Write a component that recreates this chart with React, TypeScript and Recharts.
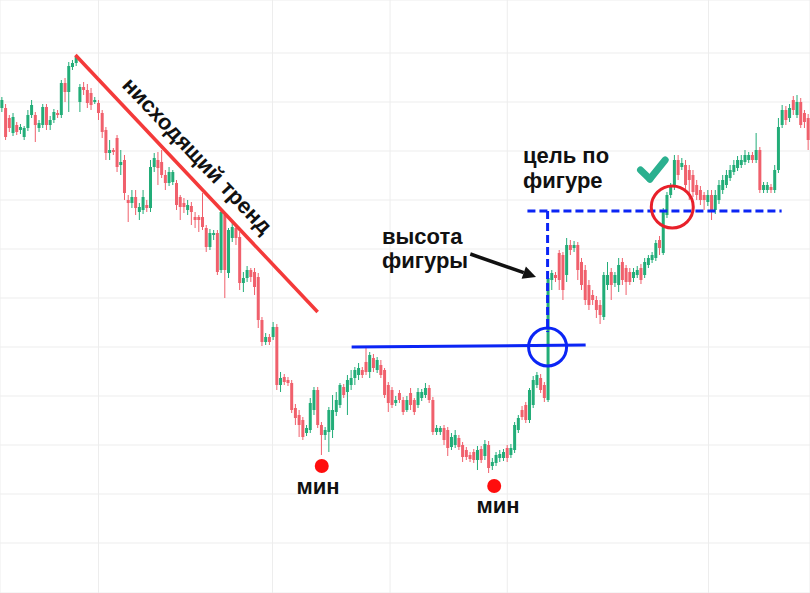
import {
  ComposedChart,
  Bar,
  XAxis,
  YAxis,
  CartesianGrid,
  ReferenceLine,
  ReferenceDot,
} from "recharts";

document.body.style.margin = "0";

type Ohlc = [number, number, number, number]; // open, high, low, close

// range before the peak
const leadIn: Ohlc[] = [
  [492, 503, 488, 500], [492, 496, 460, 463], [482, 485, 468, 472], [467, 487, 464, 483],
  [475, 478, 465, 468], [470, 476, 466, 473], [463, 474, 460, 472], [472, 490, 469, 485],
  [485, 500, 482, 495], [485, 488, 458, 475], [472, 480, 468, 477], [475, 496, 472, 493],
  [493, 496, 470, 475], [475, 484, 470, 480], [480, 491, 477, 488], [487, 490, 482, 485],
  [485, 520, 482, 517], [517, 522, 498, 508], [508, 538, 488, 534], [533, 540, 530, 537],
  [537, 545, 534, 543],
];

// falling leg along the trend line
const downtrend: Ohlc[] = [
  [498, 516, 488, 513], [513, 518, 505, 510], [510, 516, 492, 497], [507, 512, 490, 495],
  [498, 503, 496, 500], [497, 500, 480, 487], [487, 490, 462, 468], [470, 473, 440, 447],
  [447, 460, 440, 450], [450, 452, 445, 448], [462, 465, 428, 433], [435, 450, 425, 438],
  [440, 445, 400, 407], [400, 405, 378, 397], [397, 410, 392, 403], [403, 410, 385, 392],
  [388, 397, 380, 393], [390, 410, 386, 403], [395, 400, 388, 392], [392, 440, 388, 433],
  [433, 447, 428, 442], [440, 448, 415, 432], [438, 450, 422, 425], [425, 430, 410, 417],
  [417, 433, 414, 428], [418, 430, 415, 428], [417, 420, 390, 395], [403, 405, 380, 393],
  [397, 402, 387, 393], [390, 400, 385, 395], [394, 398, 375, 388], [383, 388, 372, 380],
  [383, 385, 368, 380], [383, 407, 370, 373], [372, 375, 348, 353], [353, 371, 350, 367],
  [365, 370, 360, 367], [367, 370, 325, 328], [330, 390, 327, 388], [385, 388, 302, 330],
  [327, 372, 322, 370], [362, 377, 358, 373], [372, 375, 355, 362], [363, 368, 310, 317],
  [317, 328, 308, 322], [322, 334, 318, 330], [330, 332, 318, 323], [328, 332, 305, 313],
  [323, 327, 272, 280], [280, 283, 254, 258], [258, 267, 255, 263], [263, 266, 255, 258],
  [263, 278, 260, 273],
];

// first low and rebound to the neckline
const firstTrough: Ohlc[] = [
  [273, 276, 210, 215], [215, 228, 208, 222], [223, 226, 215, 218], [220, 223, 214, 217],
  [217, 220, 187, 190], [192, 196, 175, 182], [185, 190, 163, 175], [180, 183, 160, 163],
  [167, 175, 164, 172], [170, 202, 167, 197], [190, 213, 185, 210], [210, 213, 172, 175],
  [175, 178, 145, 165], [165, 173, 160, 170], [168, 193, 148, 190], [170, 205, 162, 190],
  [188, 208, 184, 200], [195, 217, 192, 215], [213, 216, 202, 205], [208, 225, 185, 220],
  [215, 230, 210, 222], [222, 233, 215, 230], [225, 237, 220, 232], [230, 233, 222, 225],
  [238, 252, 225, 228], [228, 248, 222, 245], [242, 246, 228, 232], [230, 243, 227, 240],
  [235, 240, 222, 225], [230, 232, 202, 205], [215, 218, 188, 197], [210, 213, 192, 195],
  [197, 204, 194, 200],
];

// second low and the breakout candle
const secondTrough: Ohlc[] = [
  [207, 210, 197, 200], [200, 203, 185, 188], [190, 204, 188, 200], [207, 212, 190, 195],
  [200, 202, 185, 188], [195, 212, 192, 208], [202, 211, 199, 208], [205, 217, 202, 212],
  [212, 215, 197, 200], [200, 203, 165, 168], [168, 175, 165, 172], [168, 174, 165, 172],
  [172, 175, 155, 160], [170, 173, 144, 152], [153, 167, 150, 163], [155, 170, 152, 165],
  [162, 165, 150, 153], [155, 158, 138, 143], [150, 153, 140, 143], [145, 148, 138, 141],
  [148, 151, 137, 140], [140, 154, 130, 150], [151, 154, 137, 140], [144, 160, 140, 156],
  [155, 159, 127, 132], [134, 142, 130, 138], [137, 148, 134, 145], [142, 150, 138, 146],
  [142, 151, 139, 148], [152, 155, 138, 142], [145, 156, 142, 152], [150, 178, 147, 175],
  [170, 185, 167, 182], [190, 194, 180, 183], [195, 198, 177, 180], [180, 212, 177, 210],
  [195, 224, 192, 220], [215, 228, 212, 225], [222, 226, 207, 210], [215, 218, 198, 202],
  [200, 325, 198, 322],
];

// pullback after the breakout
const retest: Ohlc[] = [
  [320, 330, 310, 327], [325, 328, 318, 322], [347, 350, 310, 320], [345, 348, 300, 310],
  [325, 362, 318, 355], [355, 360, 345, 350], [352, 359, 348, 355], [355, 358, 320, 330],
  [338, 342, 310, 315], [330, 335, 295, 300], [315, 320, 290, 295], [305, 310, 295, 300],
  [300, 304, 282, 290], [295, 300, 276, 285], [283, 328, 280, 325], [315, 338, 310, 325],
  [328, 332, 300, 315], [317, 328, 313, 325], [315, 342, 308, 335], [338, 342, 315, 320],
  [332, 335, 305, 318], [328, 332, 315, 318], [322, 332, 318, 328], [325, 334, 322, 330],
  [332, 336, 316, 320], [325, 342, 322, 338], [335, 345, 332, 342], [340, 348, 337, 345],
  [342, 360, 339, 357], [360, 364, 345, 352], [347, 392, 345, 390], [385, 408, 382, 405],
  [405, 417, 402, 415],
];

// target reached and beyond
const target: Ohlc[] = [
  [415, 445, 410, 440], [440, 445, 420, 425], [433, 442, 430, 437], [435, 440, 410, 415],
  [430, 435, 400, 420], [425, 430, 403, 408], [415, 420, 400, 405], [410, 414, 395, 400],
  [405, 408, 390, 400], [398, 410, 394, 405], [405, 410, 380, 390], [390, 410, 386, 405],
  [400, 420, 396, 415], [410, 425, 406, 420], [415, 430, 412, 425], [422, 435, 419, 430],
  [428, 440, 425, 435], [432, 444, 429, 440], [435, 445, 432, 440], [438, 450, 435, 445],
  [440, 448, 437, 445], [445, 448, 437, 440], [440, 467, 437, 450], [450, 453, 407, 410],
  [410, 418, 407, 415], [410, 418, 407, 415], [413, 416, 407, 410], [410, 435, 407, 430],
  [430, 482, 427, 473], [475, 495, 472, 490], [490, 494, 475, 480], [482, 496, 478, 492],
  [500, 504, 485, 490], [485, 505, 482, 498], [498, 502, 472, 475], [487, 490, 472, 478],
  [482, 486, 450, 460],
];

const priceGrid = [595, 547, 498, 449, 400, 351, 302, 253, 204, 155, 106, 57];
const timeGrid = [26.4, 73.0, 104.5, 135.9, 189.8];

const candles = [...leadIn, ...downtrend, ...firstTrough, ...secondTrough, ...retest, ...target].map(
  ([open, high, low, close], i) => ({ idx: i, open, high, low, close })
);
const N = candles.length;

// annotation anchors (time index, price)
const trendLine = [{ x: 20.2, y: 545 }, { x: 85.1, y: 288 }];
const neckline = [{ x: 94.2, y: 253 }, { x: 156.9, y: 255 }];
const breakout = { x: 146.7, y: 253 };
const heightLine = [{ x: 146.7, y: 389 }, { x: 146.7, y: 268 }];
const targetLine = [{ x: 141.3, y: 389 }, { x: 209.4, y: 389 }];
const targetHit = { x: 180.1, y: 393 };
const lows = [{ x: 86.2, y: 134 }, { x: 132.4, y: 114 }];
const arrow = [{ x: 126.0, y: 346 }, { x: 143.6, y: 323 }];
const tick = [{ x: 171.6, y: 430 }, { x: 174.1, y: 421 }, { x: 178.2, y: 440 }];

const GREEN = "#22ad78";
const RED = "#f0606c";
const BLUE = "#0b25f5";

function Candle(props: any) {
  const { x, y, width, height, payload } = props;
  const { open, close, high, low } = payload;
  const top = Math.min(y, y + height);
  const span = Math.abs(height);
  const k = span / (high - low || 1);
  const cx = x + width / 2;
  const yo = top + (high - open) * k;
  const yc = top + (high - close) * k;
  const color = close >= open ? GREEN : RED;
  return (
    <g>
      <line x1={cx} x2={cx} y1={top} y2={top + span} stroke={color} strokeWidth={1} />
      <rect x={cx - 1.5} y={Math.min(yo, yc)} width={3} height={Math.max(1, Math.abs(yo - yc))} fill={color} />
    </g>
  );
}

function Arrow(props: any) {
  const { x1, y1, x2, y2 } = props;
  const a = Math.atan2(y2 - y1, x2 - x1);
  const len = 13;
  const w = 6.5;
  const bx = x2 - len * Math.cos(a);
  const by = y2 - len * Math.sin(a);
  const px = -Math.sin(a) * w;
  const py = Math.cos(a) * w;
  return (
    <g>
      <line x1={x1} y1={y1} x2={bx} y2={by} stroke="#111" strokeWidth={3.5} />
      <polygon points={`${x2},${y2} ${bx + px},${by + py} ${bx - px},${by - py}`} fill="#111" />
    </g>
  );
}

const textStyle: React.CSSProperties = {
  position: "absolute",
  fontFamily: '"Liberation Sans", Arial, sans-serif',
  fontWeight: 700,
  fontSize: 22,
  color: "#111",
  whiteSpace: "nowrap",
};

export default function App() {
  return (
    <div style={{ position: "relative", width: 810, height: 593, background: "#fff" }}>
      <ComposedChart width={810} height={593} data={candles} margin={{ top: 0, right: 0, bottom: 0, left: 0 }}>
        <XAxis xAxisId="cat" dataKey="idx" type="category" hide />
        <XAxis xAxisId="num" type="number" domain={[-0.5, N - 0.5]} ticks={timeGrid} allowDataOverflow hide />
        <YAxis type="number" domain={[7, 600]} ticks={priceGrid} allowDataOverflow hide />
        <CartesianGrid xAxisId="num" stroke="#ededed" strokeWidth={1} />
        <Bar
          xAxisId="cat"
          dataKey={(d: any) => [d.low, d.high]}
          shape={Candle}
          isAnimationActive={false}
        />
        <ReferenceLine xAxisId="num" segment={trendLine} stroke="#f43a3a" strokeWidth={3.5} />
        <ReferenceLine xAxisId="num" segment={neckline} stroke={BLUE} strokeWidth={3} />
        <ReferenceLine xAxisId="num" segment={heightLine} stroke={BLUE} strokeWidth={3} strokeDasharray="8 4" />
        <ReferenceLine xAxisId="num" segment={targetLine} stroke={BLUE} strokeWidth={3} strokeDasharray="8 4" />
        <ReferenceDot xAxisId="num" x={breakout.x} y={breakout.y} r={19} fill="none" stroke={BLUE} strokeWidth={3} />
        <ReferenceDot xAxisId="num" x={targetHit.x} y={targetHit.y} r={21} fill="none" stroke="#e8202a" strokeWidth={3} />
        {lows.map((p, i) => (
          <ReferenceDot key={i} xAxisId="num" x={p.x} y={p.y} r={7} fill="#ff0d0d" stroke="none" />
        ))}
        <ReferenceLine xAxisId="num" segment={arrow} shape={Arrow} />
        <ReferenceLine xAxisId="num" segment={[tick[0], tick[1]]} stroke="#2bb08f" strokeWidth={7} strokeLinecap="round" />
        <ReferenceLine xAxisId="num" segment={[tick[1], tick[2]]} stroke="#2bb08f" strokeWidth={7} strokeLinecap="round" />
      </ComposedChart>
      <div
        style={{
          ...textStyle,
          left: 197,
          top: 156,
          transform: "translate(-50%, -50%) rotate(46.5deg)",
        }}
      >
        нисходящий тренд
      </div>
      <div style={{ ...textStyle, left: 382, top: 225, lineHeight: "23.5px" }}>
        высота
        <br />
        фигуры
      </div>
      <div style={{ ...textStyle, left: 523, top: 143, lineHeight: "25px" }}>
        цель по
        <br />
        фигуре
      </div>
      <div style={{ ...textStyle, left: 318, top: 474, transform: "translateX(-50%)", lineHeight: "25px" }}>мин</div>
      <div style={{ ...textStyle, left: 498, top: 493, transform: "translateX(-50%)", lineHeight: "25px" }}>мин</div>
    </div>
  );
}
